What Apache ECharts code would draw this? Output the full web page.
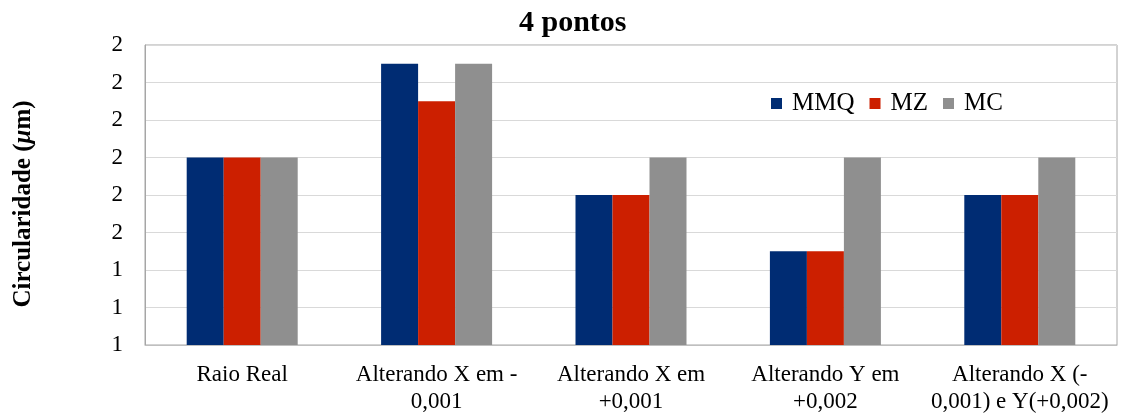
<!DOCTYPE html>
<html>
<head>
<meta charset="utf-8">
<script src="https://cdn.jsdelivr.net/npm/echarts@6/dist/echarts.min.js"></script>
<style>
  html, body { margin: 0; padding: 0; background: #fff; }
  #chart { width: 1129px; height: 416px; }
</style>
</head>
<body>
<div id="chart"></div>
<script>
// Circularity per method for each perturbation of the 4-point fit
const categories = ['Raio Real', 'Alterando X em -\n0,001', 'Alterando X em\n+0,001', 'Alterando Y em\n+0,002', 'Alterando X (-\n0,001) e Y(+0,002)'];
const seriesNames = ['MMQ', 'MZ', 'MC'];
const mmq = [1.70, 1.95, 1.60, 1.45, 1.60];
const mz  = [1.70, 1.85, 1.60, 1.45, 1.60];
const mc  = [1.70, 1.95, 1.70, 1.70, 1.70];
const colors = ['#002c73', '#cc1f00', '#8f8f8f'];
const yMin = 1.2, yMax = 2.0, yStep = 0.1;

const serif = '"Liberation Serif", "DejaVu Serif", serif';
const chart = echarts.init(document.getElementById('chart'));
const values = [mmq, mz, mc];

chart.setOption({
  animation: false,
  backgroundColor: '#fff',
  title: {
    text: '4 pontos',
    left: 514,
    top: 3,
    textStyle: { fontFamily: serif, fontSize: 30, fontWeight: 'bold', color: '#000' }
  },
  legend: {
    data: seriesNames,
    left: 766,
    top: 86,
    itemWidth: 11,
    itemHeight: 11,
    itemGap: 15,
    icon: 'rect',
    textStyle: { fontFamily: serif, fontSize: 25, color: '#000', padding: [0, 0, 0, 5] }
  },
  grid: {
    left: 145, right: 12, top: 45, bottom: 71,
    outerBoundsMode: 'none', containLabel: false,
    show: true, borderColor: '#a6a6a6', borderWidth: 1
  },
  xAxis: {
    type: 'category',
    data: categories,
    axisLine: { show: true, lineStyle: { color: '#bfbfbf' } },
    axisTick: { show: false },
    axisLabel: {
      fontFamily: serif, fontSize: 23, color: '#000', margin: 16, lineHeight: 27, interval: 0
    }
  },
  yAxis: {
    type: 'value',
    min: yMin,
    max: yMax,
    interval: yStep,
    name: '{a|Circularidade (}{b|μ}{a|m)}',
    nameLocation: 'middle',
    nameGap: 109,
    nameRotate: 90,
    nameTextStyle: {
      padding: [0, 18, 0, 0],
      rich: {
        a: { fontFamily: serif, fontSize: 25, fontWeight: 'bold', color: '#000' },
        b: { fontFamily: serif, fontSize: 25, fontWeight: 'bold', fontStyle: 'italic', color: '#000' }
      }
    },
    axisLine: { show: true, lineStyle: { color: '#a6a6a6' } },
    axisTick: { show: false },
    splitLine: { lineStyle: { color: '#d9d9d9', width: 1 } },
    axisLabel: {
      fontFamily: serif, fontSize: 23, color: '#000', margin: 22,
      formatter: v => String(Math.round(v))
    }
  },
  series: seriesNames.map((name, i) => ({
    name,
    type: 'bar',
    data: values[i],
    barWidth: 37,
    barGap: '0%',
    itemStyle: { color: colors[i] }
  }))
});
</script>
</body>
</html>
